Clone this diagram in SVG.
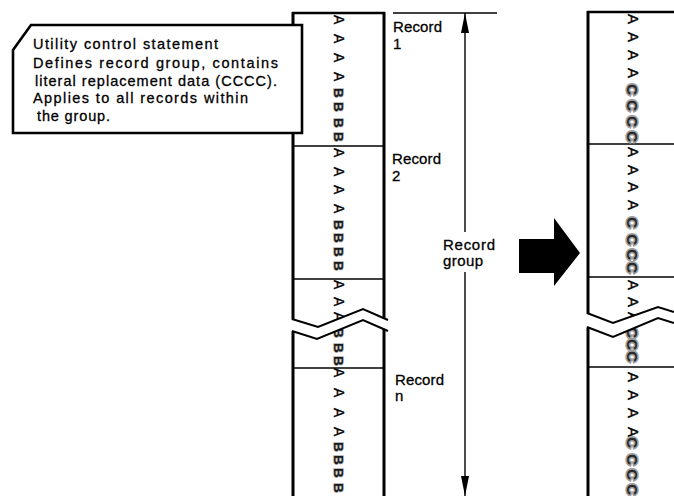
<svg xmlns="http://www.w3.org/2000/svg" width="674" height="496" viewBox="0 0 674 496">
<style>
  .t { font-family: "Liberation Sans", Arial, sans-serif; fill: #000; stroke: #000; stroke-width: 0.3; }
  .box { font-size: 14.5px; }
  .lbl { font-size: 15px; }
  .la { font-family: "Liberation Sans", Arial, sans-serif; font-size: 14px; fill: #000; stroke: #000; stroke-width: 0.4; }
  .lb { font-family: "Liberation Sans", Arial, sans-serif; font-size: 13.5px; font-weight: bold; fill: #1a1a1a; stroke: #b0b0b0; stroke-width: 1.5; paint-order: stroke; }
  .ra { font-family: "Liberation Sans", Arial, sans-serif; font-size: 15px; fill: #000; stroke: #000; stroke-width: 0.4; }
  .rc { font-family: "Liberation Sans", Arial, sans-serif; font-size: 15.5px; font-weight: bold; fill: #2a2a2a; stroke: #a0a0a0; stroke-width: 3.2; paint-order: stroke; }
  .border { stroke: #000; stroke-width: 3; fill: none; }
  .edge { stroke: #000; stroke-width: 2.5; fill: none; }
  .div { stroke: #000; stroke-width: 1.6; fill: none; }
  .zig { stroke: #000; stroke-width: 2; fill: none; stroke-linejoin: miter; }
  .mask { fill: #fff; stroke: none; }
  .dim { stroke: #000; stroke-width: 1.4; fill: none; }
</style>
<defs>
  <marker id="ah" viewBox="0 0 20 8" refX="20" refY="4" markerWidth="20" markerHeight="8" markerUnits="userSpaceOnUse" orient="auto">
    <path d="M0,0 L20,4 L0,8 z" fill="#000"/>
  </marker>
</defs>
<rect width="674" height="496" fill="#fff"/>

<!-- Left column: records A/B -->
<g id="left-column">
  <line class="border" x1="293" y1="12" x2="293" y2="496"/>
  <line class="border" x1="384" y1="12" x2="384" y2="496"/>
  <line class="edge" x1="292" y1="13" x2="385" y2="13"/>
  <line class="div" x1="293" y1="146" x2="384" y2="146"/>
  <line class="div" x1="293" y1="279" x2="384" y2="279"/>
  <line class="div" x1="293" y1="368" x2="384" y2="368"/>
  <text class="la" transform="translate(334 0) rotate(90)" x="15 34 53 72">AAAA</text>
  <text class="lb" transform="translate(334 0) rotate(90)" x="88 102 118 132">BBBB</text>
  <text class="la" transform="translate(334 0) rotate(90)" x="148 167 185 204">AAAA</text>
  <text class="lb" transform="translate(334 0) rotate(90)" x="220 233 247 261">BBBB</text>
  <text class="la" transform="translate(334 0) rotate(90)" x="280 297 312">AAA</text>
  <text class="lb" transform="translate(334 0) rotate(90)" x="328 343 356">BBB</text>
  <text class="la" transform="translate(334 0) rotate(90)" x="368 388 408 427">AAAA</text>
  <text class="lb" transform="translate(334 0) rotate(90)" x="442 455 468 483">BBBB</text>
  <polygon class="mask" points="290,319 318,327 363,309 390,320 390,331 363,320 317,339 290,331"/>
  <polyline class="zig" points="292,319 318,327 363,309 388,320"/>
  <polyline class="zig" points="292,331 317,339 363,320 388,331"/>
</g>

<!-- Right column: records A/C -->
<g id="right-column">
  <line class="border" x1="588" y1="11" x2="588" y2="496"/>
  <line class="edge" x1="587" y1="12" x2="674" y2="12"/>
  <line class="div" x1="588" y1="144" x2="674" y2="144"/>
  <line class="div" x1="588" y1="277" x2="674" y2="277"/>
  <line class="div" x1="588" y1="367" x2="674" y2="367"/>
  <text class="ra" transform="translate(628 0) rotate(90)" x="14 32 50 68">AAAA</text>
  <text class="rc" transform="translate(627 0) rotate(90)" x="84 100 116 131">CCCC</text>
  <text class="ra" transform="translate(628 0) rotate(90)" x="147 165 182 200">AAAA</text>
  <text class="rc" transform="translate(627 0) rotate(90)" x="217 234 249 262">CCCC</text>
  <text class="ra" transform="translate(628 0) rotate(90)" x="280 297 312">AAA</text>
  <text class="rc" transform="translate(627 0) rotate(90)" x="327 339 351">CCC</text>
  <text class="ra" transform="translate(628 0) rotate(90)" x="372 390 408 427">AAAA</text>
  <text class="rc" transform="translate(627 0) rotate(90)" x="437 454 469 484">CCCC</text>
  <polygon class="mask" points="585,313 613,323 658,307 674,312 674,323 658,318 613,337 585,327"/>
  <polyline class="zig" points="587,313 613,323 658,307 674,312"/>
  <polyline class="zig" points="587,327 613,337 658,318 674,323"/>
</g>

<!-- Callout: utility control statement -->
<g id="callout">
  <polygon points="13,50 31,25 302,25 302,133 13,133" fill="#fff" stroke="#000" stroke-width="2.6" stroke-linejoin="miter"/>
  <text class="t box" x="33" y="49" textLength="185" lengthAdjust="spacing">Utility control statement</text>
  <text class="t box" x="33" y="68" textLength="245" lengthAdjust="spacing">Defines record group, contains</text>
  <text class="t box" x="35" y="86" textLength="242" lengthAdjust="spacing">literal replacement data (CCCC).</text>
  <text class="t box" x="33" y="103" textLength="215" lengthAdjust="spacing">Applies to all records within</text>
  <text class="t box" x="37" y="121" textLength="73" lengthAdjust="spacing">the group.</text>
</g>

<!-- Record labels -->
<g id="record-1-label">
  <text class="t lbl" x="393" y="32" textLength="49" lengthAdjust="spacing">Record</text>
  <text class="t lbl" x="393" y="49">1</text>
</g>
<g id="record-2-label">
  <text class="t lbl" x="392" y="164" textLength="49" lengthAdjust="spacing">Record</text>
  <text class="t lbl" x="392" y="181">2</text>
</g>
<g id="record-n-label">
  <text class="t lbl" x="395" y="385" textLength="49" lengthAdjust="spacing">Record</text>
  <text class="t lbl" x="395" y="401">n</text>
</g>
<g id="record-group-label">
  <text class="t lbl" x="443" y="250" textLength="52" lengthAdjust="spacing">Record</text>
  <text class="t lbl" x="443" y="266" textLength="40" lengthAdjust="spacing">group</text>
</g>

<!-- Transformation arrow -->
<g id="big-arrow">
  <polygon points="519,239 554,239 554,218 580,253 554,286 554,273 519,273" fill="#000"/>
</g>

<!-- Connectors: record group dimension -->
<g id="connectors">
  <line class="dim" x1="393" y1="13" x2="497" y2="13"/>
  <line class="dim" x1="465" y1="232" x2="465" y2="13" marker-end="url(#ah)"/>
  <line class="dim" x1="465" y1="272" x2="465" y2="496" marker-end="url(#ah)"/>
</g>
</svg>
